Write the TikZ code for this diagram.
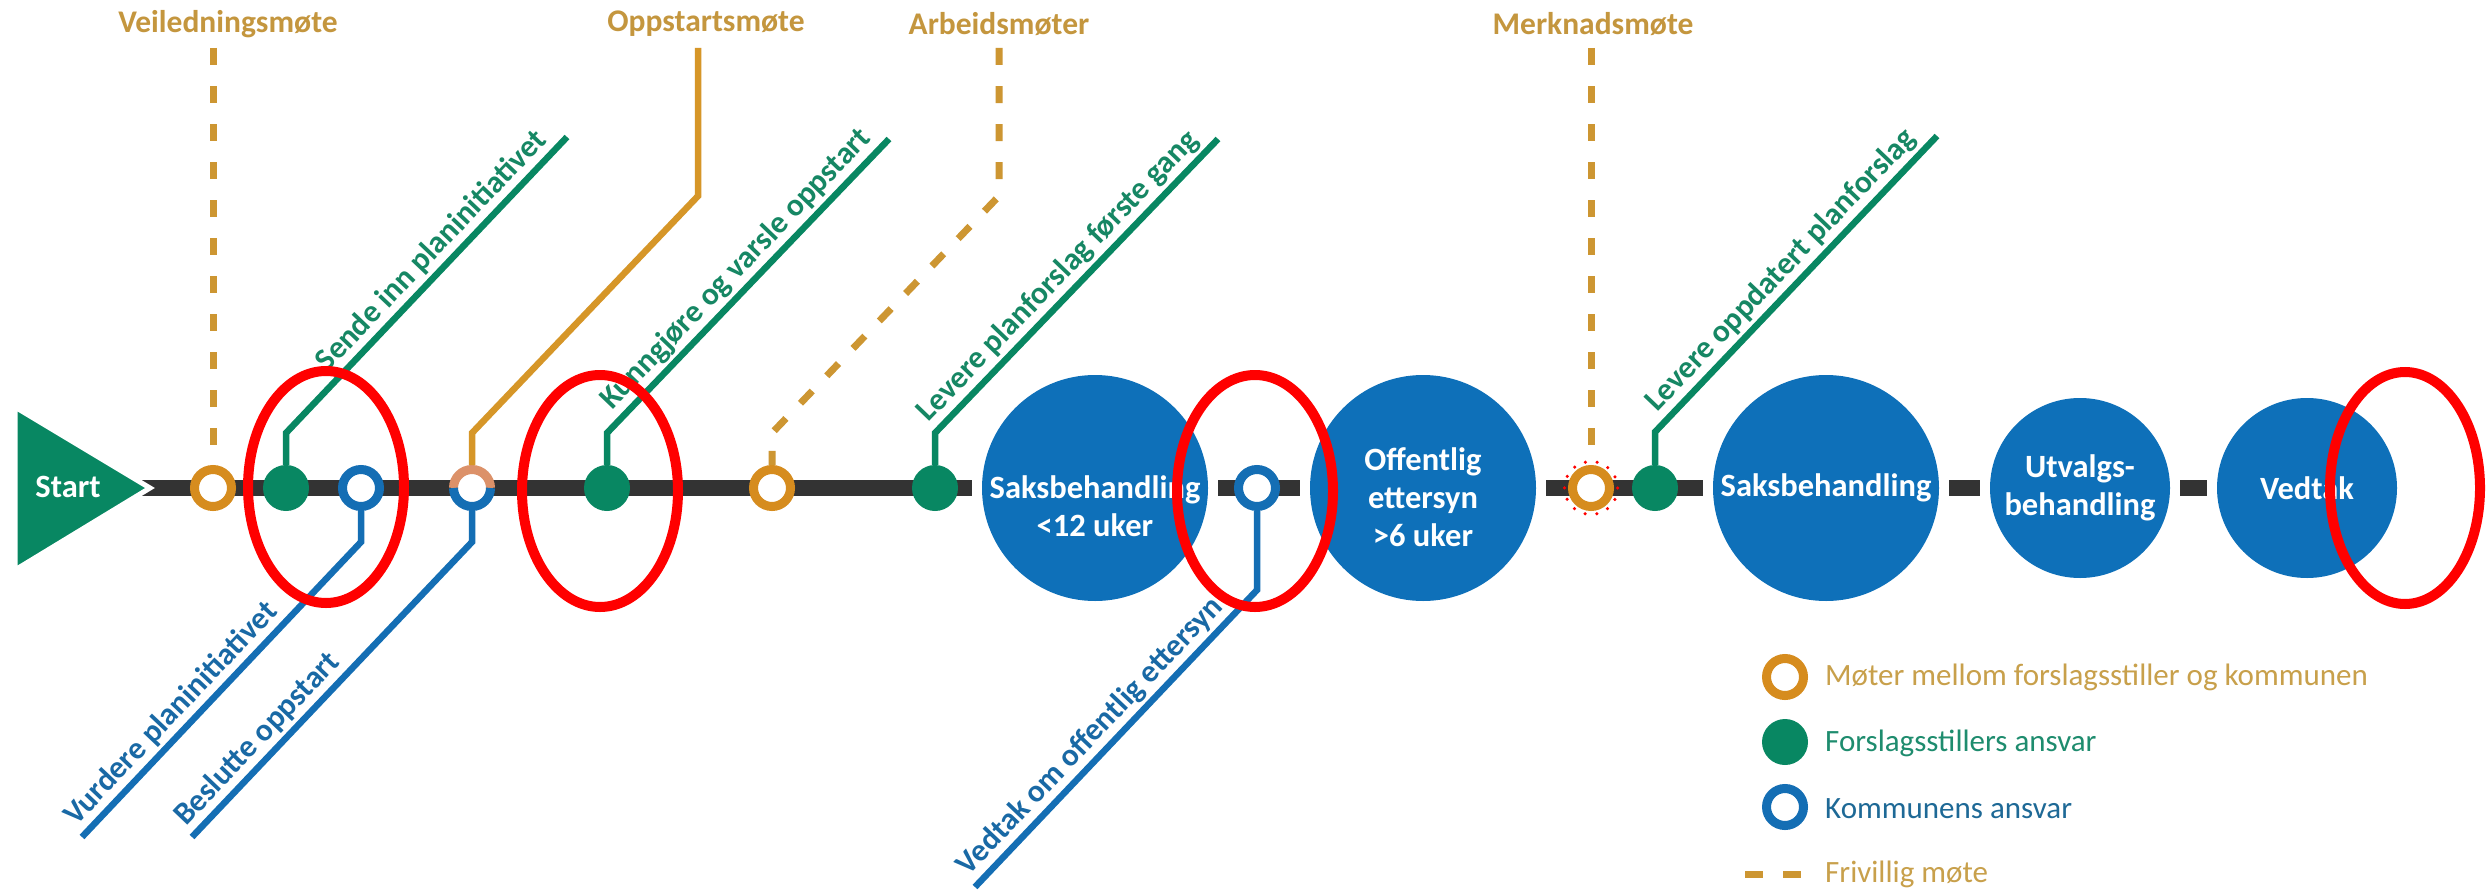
\documentclass[tikz,border=0pt]{standalone}
\usepackage{fontspec}
\setmainfont{Carlito}
\usetikzlibrary{backgrounds}
\definecolor{gcol}{RGB}{8,135,98}
\definecolor{bcol}{RGB}{14,112,185}
\definecolor{rbcol}{RGB}{20,110,180}
\definecolor{ocol}{RGB}{214,140,30}
\definecolor{tancol}{RGB}{196,150,62}
\definecolor{dcol}{RGB}{205,150,50}
\definecolor{olcol}{RGB}{214,150,40}
\definecolor{peach}{RGB}{220,145,105}
\definecolor{trk}{RGB}{51,51,51}
\definecolor{gtxt}{RGB}{22,135,100}
\definecolor{btxt}{RGB}{25,105,165}
\definecolor{legtan}{RGB}{200,160,75}
\definecolor{leggreen}{RGB}{30,140,110}
\definecolor{legblue}{RGB}{30,105,150}
\newcommand{\lblfont}{\fontsize{31.5}{38}\selectfont\bfseries}
\newcommand{\circfont}{\fontsize{32.5}{38}\selectfont\bfseries}
\newcommand{\legfont}{\fontsize{31}{36}\selectfont}
\begin{document}
\begin{tikzpicture}[x=1pt,y=-1pt,
  meetring/.style={circle, draw=ocol, line width=9pt, fill=white, minimum size=37pt, inner sep=0pt},
  komring/.style={circle, draw=rbcol, line width=9pt, fill=white, minimum size=37pt, inner sep=0pt},
  forsdot/.style={circle, fill=gcol, minimum size=46pt, inner sep=0pt},
  bigc/.style={circle, fill=bcol, inner sep=0pt, outer sep=10pt, text=white, font=\circfont, align=center},
  bigtxt/.style={text=white, font=\circfont, align=center, inner sep=0pt},
  track/.style={draw=trk, line width=16pt},
  gline/.style={draw=gcol, line width=6.5pt},
  bline/.style={draw=rbcol, line width=6.5pt},
  oline/.style={draw=olcol, line width=6.5pt},
  dline/.style={draw=dcol, line width=7pt, dash pattern=on 17pt off 21pt},
  lbl/.style={sloped, anchor=south west, inner xsep=0pt, inner ysep=3pt, font=\lblfont},
  toplbl/.style={text=tancol, font=\lblfont, inner sep=0pt},
  legtxt/.style={anchor=west, font=\legfont, inner sep=0pt},
  redring/.style={draw=red, line width=10pt}
]
\useasboundingbox (0,0) rectangle (2487,891);

% start triangle
\filldraw[fill=gcol, draw=white, line width=5pt, line join=miter] (15,407) -- (150,488) -- (15,570) -- cycle;
\node[bigtxt] (start) at (68,487) {Start};

% stations on the line
\node[meetring] (r1) at (213,488) {};
\node[forsdot] (g1) at (286,488) {};
\node[komring] (r2) at (361,488) {};
\node[circle, fill=white, minimum size=37pt, inner sep=0pt, outer sep=4.5pt] (r3) at (472,488) {};
\draw[peach, line width=9pt] (r3.center) ++(-18.5,0) arc[start angle=180, end angle=360, radius=18.5];
\draw[rbcol, line width=9pt] (r3.center) ++(18.5,0) arc[start angle=0, end angle=180, radius=18.5];
\node[forsdot] (g2) at (607,488) {};
\node[meetring] (r4) at (772,488) {};
\node[forsdot] (g3) at (935,488) {};
\node[bigc, minimum size=226pt] (sb1) at (1095,488) {};
\node[bigtxt] (sb1t) at (1095,506) {Saksbehandling\\<12 uker};
\node[komring] (r5) at (1257,488) {};
\node[bigc, minimum size=226pt] (oe) at (1423,488) {};
\node[bigtxt] (oet) at (1423,497) {Offentlig\\ettersyn\\>6 uker};
\node[meetring] (r6) at (1591,488) {};
\node[forsdot] (g4) at (1655,488) {};
\node[bigc, minimum size=226pt] (sb2) at (1826,488) {Saksbehandling};
\node[bigc, minimum size=180pt] (ub) at (2080,488) {Utvalgs-\\behandling};
\node[bigc, minimum size=180pt] (vt) at (2307,488) {Vedtak};

% main track
\begin{scope}[on background layer]
\fill[white] (0,0) rectangle (2487,891);
\coordinate (t0) at (138,488);
\draw[track] (t0) -- (sb1);
\draw[track] (sb1) -- (oe);
\draw[track] (oe) -- (sb2);
\draw[track] (sb2) -- (ub);
\draw[track] (ub) -- (vt);
\end{scope}

% top labels
\node[toplbl] (vm) at (228,24) {Veiledningsmøte};
\node[toplbl] (om) at (706,24) {Oppstartsmøte};
\node[toplbl] (am) at (999,24) {Arbeidsmøter};
\node[toplbl] (mm) at (1593,24) {Merknadsmøte};

% meeting connectors
\coordinate (vtop) at (213,48);
\draw[dline] (vtop) -- (r1);
\coordinate (otop) at (698,48);
\coordinate (ob1) at (698,196);
\coordinate (ob2) at (472,433);
\draw[oline] (otop) -- (ob1) -- (ob2) -- (r3);
\coordinate (atop) at (999,48);
\coordinate (ab1) at (999,196);
\coordinate (ab2) at (772,433);
\draw[dline] (atop) -- (ab1) -- (ab2) -- (r4);
\coordinate (mtop) at (1591,48);
\draw[dline] (mtop) -- (r6);
\draw[red, line width=3.5pt, line cap=round, dash pattern=on 0pt off 11.9pt] (r6.center) circle[radius=26.5];

% green (forslagsstiller) branches
\coordinate (g1b) at (286,433);
\coordinate (g1e) at (567,137);
\draw[gline] (g1) -- (g1b) -- node[lbl, pos=0.17, text=gtxt] (l1) {Sende inn planinitiativet} (g1e);
\coordinate (g2b) at (607,433);
\coordinate (g2e) at (889,139);
\draw[gline] (g2) -- (g2b) -- node[lbl, pos=0.04, text=gtxt] (l2) {Kunngjøre og varsle oppstart} (g2e);
\coordinate (g3b) at (935,433);
\coordinate (g3e) at (1218,139);
\draw[gline] (g3) -- (g3b) -- node[lbl, pos=0.0, text=gtxt] (l3) {Levere planforslag første gang} (g3e);
\coordinate (g4b) at (1655,432);
\coordinate (g4e) at (1937,136);
\draw[gline] (g4) -- (g4b) -- node[lbl, pos=0.03, text=gtxt] (l4) {Levere oppdatert planforslag} (g4e);

% blue (kommune) branches
\coordinate (r2b) at (361,542);
\coordinate (r2e) at (82,837);
\draw[bline] (r2e) -- node[lbl, pos=0, text=btxt] (l5) {Vurdere planinitiativet} (r2b) -- (r2);
\coordinate (r3b) at (472,542);
\coordinate (r3e) at (192,837);
\draw[bline] (r3e) -- node[lbl, pos=0, text=btxt] (l6) {Beslutte oppstart} (r3b) -- (r3);
\coordinate (r5b) at (1257,590);
\coordinate (r5e) at (975,887);
\draw[bline] (r5e) -- node[lbl, pos=0, text=btxt] (l7) {Vedtak om offentlig ettersyn} (r5b) -- (r5);

% legend
\node[meetring] (k1) at (1785,677) {};
\node[forsdot] (k2) at (1785,742) {};
\node[komring] (k3) at (1785,807) {};
\coordinate (k4a) at (1745,874);
\coordinate (k4b) at (1803,874);
\draw[draw=dcol, line width=7pt, dash pattern=on 18pt off 20pt] (k4a) -- (k4b);
\node[legtxt, text=legtan] (k1t) at (1825,677) {Møter mellom forslagsstiller og kommunen};
\node[legtxt, text=leggreen] (k2t) at (1825,743) {Forslagsstillers ansvar};
\node[legtxt, text=legblue] (k3t) at (1825,809) {Kommunens ansvar};
\node[legtxt, text=legtan] (k4t) at (1825,874) {Frivillig møte};

% red annotation ellipses
\draw[redring] (326,487) ellipse[x radius=78, y radius=116];
\draw[redring] (600,491) ellipse[x radius=78, y radius=116];
\draw[redring] (1255,491) ellipse[x radius=78, y radius=116];
\draw[redring] (2405,488) ellipse[x radius=75, y radius=116];
\end{tikzpicture}
\end{document}
